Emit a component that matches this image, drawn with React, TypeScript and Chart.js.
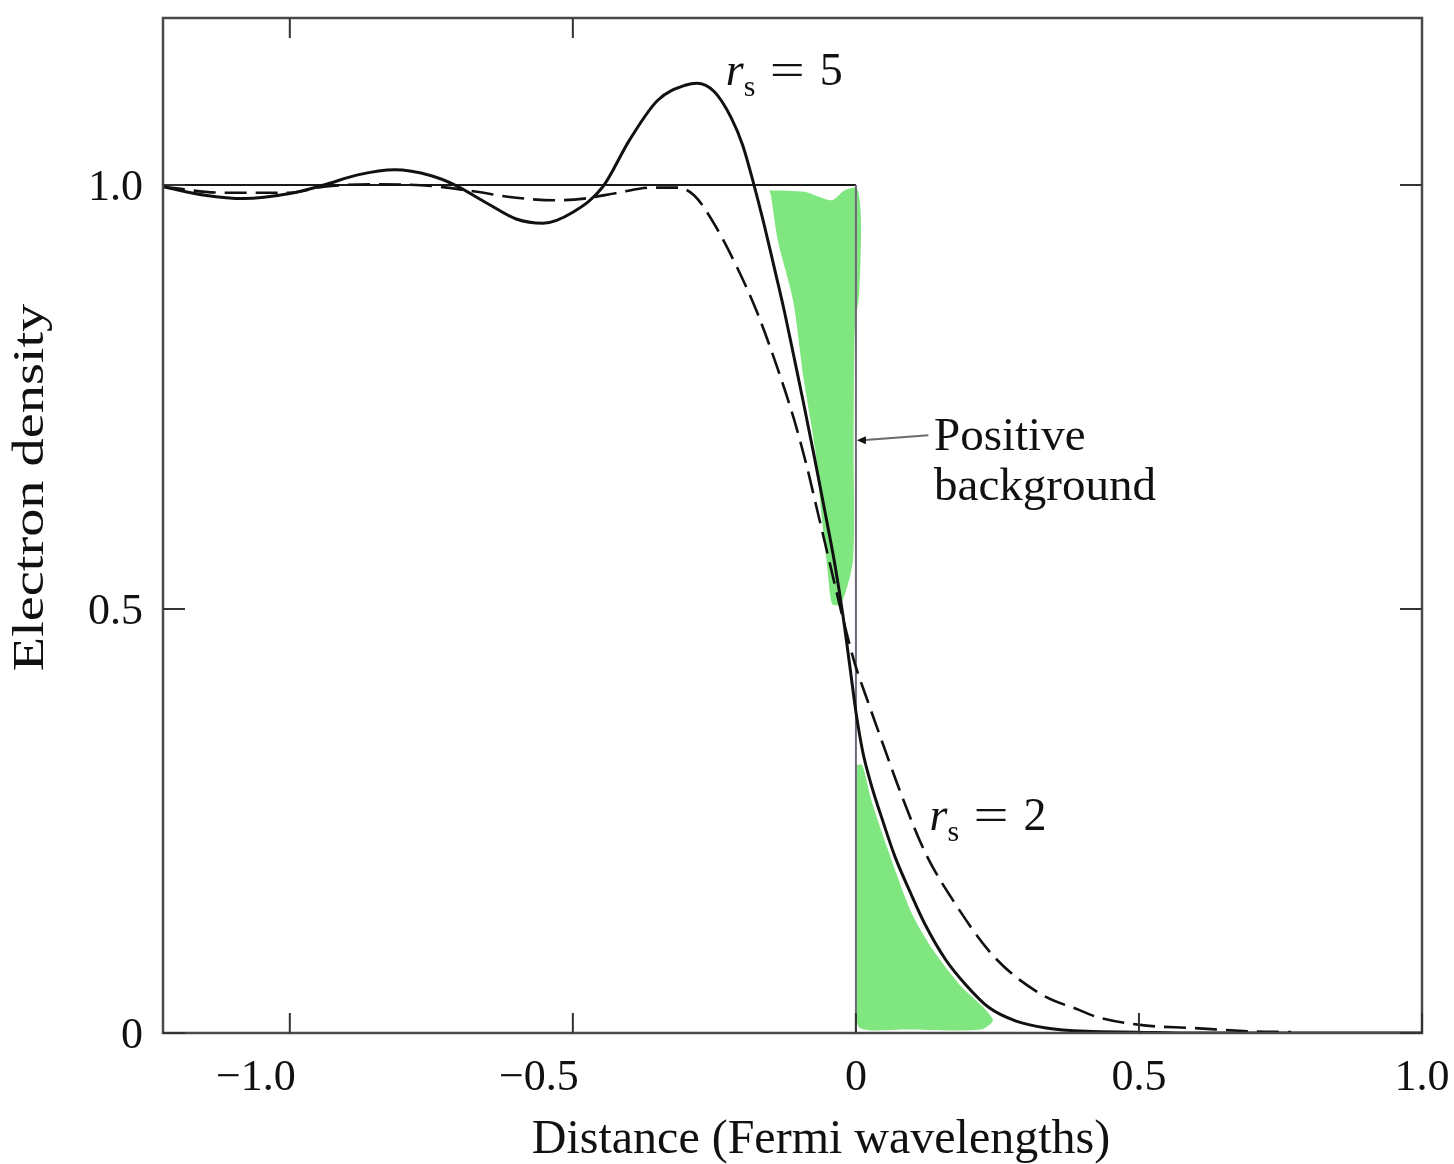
import React, { useEffect, useRef } from "react";
import { Chart, registerables } from "chart.js";

Chart.register(...registerables);

// ---- Data ----
const xRange = [-1.224, 1.0];
const yRange = [0, 1.197];

const xTickValues = [-1.0, -0.5, 0, 0.5, 1.0];
const xTickLabels = ["\u22121.0", "\u22120.5", "0", "0.5", "1.0"];
const xTopTickValues = [-1.0, -0.5];
const yTickValues = [0, 0.5, 1.0];
const yTickLabels = ["0", "0.5", "1.0"];

// r_s = 5 (solid)
const rs5X = [-1.224, -1.15, -1.082, -1.0, -0.94, -0.88, -0.815, -0.75, -0.708, -0.65, -0.6, -0.553, -0.5, -0.447, -0.4, -0.35, -0.3, -0.281, -0.25, -0.22, -0.2, -0.18, -0.162, -0.144, -0.126, -0.109, -0.091, -0.073, -0.055, -0.037, -0.023, -0.011, 0.0, 0.012, 0.027, 0.048, 0.069, 0.096, 0.123, 0.158, 0.194, 0.235, 0.283, 0.336, 0.407, 0.496, 0.6, 1.0];
const rs5Y = [0.998, 0.988, 0.984, 0.99, 1.0, 1.012, 1.018, 1.011, 1.0, 0.978, 0.96, 0.955, 0.968, 0.998, 1.053, 1.1, 1.118, 1.12, 1.11, 1.079, 1.047, 1.0, 0.953, 0.902, 0.85, 0.796, 0.738, 0.678, 0.616, 0.552, 0.493, 0.434, 0.379, 0.332, 0.293, 0.249, 0.208, 0.166, 0.127, 0.087, 0.057, 0.03, 0.014, 0.006, 0.002, 0.001, 0.0, 0.0];

// r_s = 2 (dashed)
const rs2X = [-1.224, -1.12, -1.0, -0.94, -0.85, -0.75, -0.68, -0.6, -0.53, -0.48, -0.42, -0.36, -0.317, -0.286, -0.251, -0.21, -0.174, -0.139, -0.109, -0.087, -0.066, -0.044, -0.023, -0.002, 0.02, 0.046, 0.082, 0.123, 0.171, 0.244, 0.329, 0.395, 0.425, 0.509, 0.591, 0.698, 0.769];
const rs2Y = [0.998, 0.991, 0.991, 0.998, 1.001, 0.999, 0.993, 0.985, 0.982, 0.984, 0.991, 0.997, 0.997, 0.988, 0.955, 0.903, 0.849, 0.785, 0.723, 0.669, 0.61, 0.548, 0.489, 0.436, 0.393, 0.344, 0.278, 0.212, 0.157, 0.09, 0.045, 0.027, 0.019, 0.009, 0.006, 0.002, 0.001];

// positive background (step)
const bgX = [-1.224, 0, 0];
const bgY = [1.0, 1.0, 0.0];

// green highlighter regions (closed outlines)
const greenTopX = [-0.153, -0.091, -0.043, -0.02, 0.002, 0.009, 0.006, -0.002, -0.004, -0.005, -0.026, -0.042, -0.05, -0.06, -0.072, -0.092, -0.111, -0.138, -0.15];
const greenTopY = [0.994, 0.992, 0.982, 0.994, 0.996, 0.959, 0.874, 0.829, 0.688, 0.558, 0.506, 0.506, 0.546, 0.606, 0.688, 0.77, 0.864, 0.935, 0.988];
const greenBotX = [0.0, 0.011, 0.027, 0.055, 0.098, 0.133, 0.183, 0.221, 0.242, 0.221, 0.087, 0.007, 0.0];
const greenBotY = [0.316, 0.316, 0.275, 0.219, 0.142, 0.101, 0.057, 0.033, 0.015, 0.004, 0.004, 0.006, 0.039];

// annotations
const rs5Label = { x: -0.23, y: 1.118, value: "5" };
const rs2Label = { x: 0.13, y: 0.239, value: "2" };
const bgLabelLines = ["Positive", "background"];
const bgLabelPos = { x: 0.138, y1: 0.687, y2: 0.629 };
const bgPointer = { x0: 0.0, y0: 0.699, x1: 0.128, y1: 0.705 };

const xTitle = "Distance (Fermi wavelengths)";
const yTitle = "Electron density";

const zip = (xs: number[], ys: number[]) => xs.map((x, i) => ({ x, y: ys[i] }));

const SERIF = "'Liberation Serif', 'DejaVu Serif', serif";

const overlay = {
  id: "overlay",
  afterDatasetsDraw(chart: any) {
    const { ctx, chartArea: a, scales } = chart;
    const xs = scales.x;
    const ys = scales.y;
    ctx.save();

    // frame
    ctx.strokeStyle = "#4a4a4a";
    ctx.lineWidth = 2.5;
    ctx.strokeRect(a.left, a.top, a.right - a.left, a.bottom - a.top);

    // inward ticks
    ctx.strokeStyle = "#333";
    ctx.lineWidth = 2;
    ctx.beginPath();
    xTickValues.forEach((v) => {
      const px = xs.getPixelForValue(v);
      ctx.moveTo(px, a.bottom);
      ctx.lineTo(px, a.bottom - 20);
    });
    xTopTickValues.forEach((v) => {
      const px = xs.getPixelForValue(v);
      ctx.moveTo(px, a.top);
      ctx.lineTo(px, a.top + 20);
    });
    yTickValues.forEach((v) => {
      const py = ys.getPixelForValue(v);
      ctx.moveTo(a.left, py);
      ctx.lineTo(a.left + 22, py);
      ctx.moveTo(a.right, py);
      ctx.lineTo(a.right - 22, py);
    });
    ctx.stroke();

    // tick labels
    ctx.fillStyle = "#111";
    ctx.font = `44px ${SERIF}`;
    ctx.textBaseline = "alphabetic";
    xTickValues.forEach((v, i) => {
      const px = xs.getPixelForValue(v);
      if (v < 0) {
        ctx.textAlign = "right";
        ctx.fillText(xTickLabels[i], px + 6, a.bottom + 57);
      } else {
        ctx.textAlign = "center";
        ctx.fillText(xTickLabels[i], px, a.bottom + 57);
      }
    });
    ctx.textAlign = "right";
    yTickValues.forEach((v, i) => {
      const py = ys.getPixelForValue(v);
      ctx.fillText(yTickLabels[i], a.left - 20, py + 15);
    });

    // axis titles
    ctx.font = `48px ${SERIF}`;
    ctx.textAlign = "center";
    ctx.fillText(xTitle, a.left + 658, a.bottom + 120);
    ctx.save();
    ctx.translate(a.left - 120, (a.top + a.bottom) / 2 - 38);
    ctx.rotate(-Math.PI / 2);
    ctx.scale(1.28, 1);
    ctx.font = `44px ${SERIF}`;
    ctx.fillText(yTitle, 0, 0);
    ctx.restore();

    // r_s labels
    const drawRs = (lab: { x: number; y: number; value: string }) => {
      const px = xs.getPixelForValue(lab.x);
      const py = ys.getPixelForValue(lab.y);
      ctx.textAlign = "left";
      ctx.font = `italic 46px ${SERIF}`;
      ctx.fillText("r", px, py);
      ctx.font = `30px ${SERIF}`;
      ctx.fillText("s", px + 18, py + 11);
      ctx.font = `46px ${SERIF}`;
      ctx.save();
      ctx.translate(px + 44, py);
      ctx.scale(1.35, 1);
      ctx.fillText("=", 0, 0);
      ctx.restore();
      ctx.fillText(lab.value, px + 94, py);
    };
    drawRs(rs5Label);
    drawRs(rs2Label);

    // positive background label + pointer
    ctx.font = `47px ${SERIF}`;
    ctx.textAlign = "left";
    const lx = xs.getPixelForValue(bgLabelPos.x);
    ctx.fillText(bgLabelLines[0], lx, ys.getPixelForValue(bgLabelPos.y1));
    ctx.fillText(bgLabelLines[1], lx, ys.getPixelForValue(bgLabelPos.y2));
    const p0x = xs.getPixelForValue(bgPointer.x0);
    const p0y = ys.getPixelForValue(bgPointer.y0);
    const p1x = xs.getPixelForValue(bgPointer.x1);
    const p1y = ys.getPixelForValue(bgPointer.y1);
    ctx.strokeStyle = "#6a6a6a";
    ctx.lineWidth = 2;
    ctx.beginPath();
    ctx.moveTo(p0x + 6, p0y);
    ctx.lineTo(p1x, p1y);
    ctx.stroke();
    ctx.fillStyle = "#111";
    ctx.beginPath();
    ctx.moveTo(p0x + 1, p0y);
    ctx.lineTo(p0x + 10, p0y - 4);
    ctx.lineTo(p0x + 10, p0y + 4);
    ctx.closePath();
    ctx.fill();

    ctx.restore();
  },
};

export default function App() {
  const canvasRef = useRef<HTMLCanvasElement | null>(null);

  useEffect(() => {
    if (!canvasRef.current) return;
    const green = "rgba(100, 225, 100, 0.82)";
    const chart = new Chart(canvasRef.current, {
      type: "line",
      data: {
        datasets: [
          {
            label: "r_s = 5",
            data: zip(rs5X, rs5Y),
            borderColor: "#111",
            borderWidth: 3,
            pointRadius: 0,
            cubicInterpolationMode: "monotone",
            fill: false,
          },
          {
            label: "r_s = 2",
            data: zip(rs2X, rs2Y),
            borderColor: "#111",
            borderWidth: 2.6,
            borderDash: [22, 9],
            pointRadius: 0,
            cubicInterpolationMode: "monotone",
            fill: false,
          },
          {
            label: "Positive background",
            data: zip(bgX, bgY),
            borderColor: "#1a1a1a",
            borderWidth: 2,
            pointRadius: 0,
            tension: 0,
            fill: false,
            segment: {
              borderColor: (c: any) =>
                c.p0.parsed.x === 0 && c.p1.parsed.x === 0 ? "#6f6678" : "#1a1a1a",
            },
          },
          {
            label: "highlight-top",
            data: zip(greenTopX, greenTopY),
            borderWidth: 0,
            borderColor: "rgba(0,0,0,0)",
            backgroundColor: green,
            pointRadius: 0,
            tension: 0.25,
            fill: "shape",
          },
          {
            label: "highlight-bottom",
            data: zip(greenBotX, greenBotY),
            borderWidth: 0,
            borderColor: "rgba(0,0,0,0)",
            backgroundColor: green,
            pointRadius: 0,
            tension: 0.25,
            fill: "shape",
          },
        ],
      },
      options: {
        animation: false,
        responsive: false,
        events: [],
        layout: { padding: { left: 163, top: 18, right: 32, bottom: 131 } },
        plugins: {
          legend: { display: false },
          tooltip: { enabled: false },
        },
        scales: {
          x: { type: "linear", min: xRange[0], max: xRange[1], display: false },
          y: { type: "linear", min: yRange[0], max: yRange[1], display: false },
        },
      },
      plugins: [overlay],
    } as any);
    return () => chart.destroy();
  }, []);

  return (
    <div style={{ position: "absolute", left: 0, top: 0, width: 1454, height: 1164, background: "#fff" }}>
      <canvas ref={canvasRef} width={1454} height={1164} style={{ display: "block" }} />
    </div>
  );
}
